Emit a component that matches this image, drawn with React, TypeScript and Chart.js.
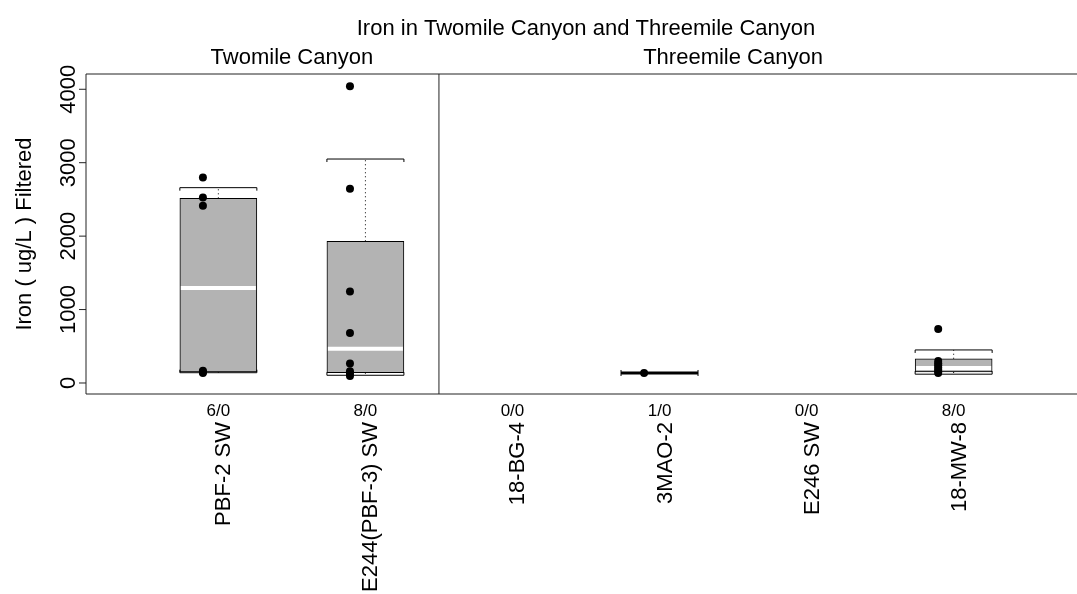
import React, { useEffect, useRef } from "react";
import { Chart, registerables } from "chart.js";

Chart.register(...registerables);

// ---- data ----
const categories = ["PBF-2 SW", "E244(PBF-3) SW", "18-BG-4", "3MAO-2", "E246 SW", "18-MW-8"];
const countLabels = ["6/0", "8/0", "0/0", "1/0", "0/0", "8/0"];
const groupNames = ["Twomile Canyon", "Threemile Canyon"];
const groupFirst = [0, 2];
const groupLast = [1, 5];
const whiskerLow = [140, 105, null, 136, null, 120];
const q1 = [150, 140, null, 136, null, 150];
const median = [1295, 465, null, 136, null, 205];
const q3 = [2515, 1930, null, 136, null, 330];
const whiskerHigh = [2660, 3050, null, 136, null, 450];
const observations: number[][] = [
  [2800, 2525, 2415, 165, 150, 135],
  [4040, 2645, 1245, 680, 265, 160, 125, 95],
  [],
  [136],
  [],
  [736, 300, 270, 240, 210, 180, 155, 135],
];
const yTicks = [0, 1000, 2000, 3000, 4000];
const titleText = "Iron in Twomile Canyon and Threemile Canyon";
const yTitle = "Iron ( ug/L ) Filtered";

// ---- style constants ----
const FONT = '"Liberation Sans", Arial, Helvetica, sans-serif';
const BOX_W = 77;
const POINT_SHIFT = -0.105;
const CANVAS_W = 1100;
const CANVAS_H = 594;

const boxData = categories
  .map((_, i) => (q1[i] == null ? null : { x: i, y: [q1[i] as number, q3[i] as number] }))
  .filter((d) => d !== null);

const pointData: { x: number; y: number }[] = [];
observations.forEach((vals, i) => vals.forEach((v) => pointData.push({ x: i + POINT_SHIFT, y: v })));

const extrasPlugin = {
  id: "boxExtras",
  afterDatasetDraw(chart: any, args: any) {
    if (chart.data.datasets[args.index].type !== "bar") return;
    const { ctx, scales } = chart;
    const xs = scales.x;
    const ys = scales.y;
    const half = BOX_W / 2;
    categories.forEach((_, i) => {
      if (median[i] == null) return;
      const cx = xs.getPixelForValue(i);
      const yLo = ys.getPixelForValue(whiskerLow[i]);
      const yQ1 = ys.getPixelForValue(q1[i]);
      const yMed = ys.getPixelForValue(median[i]);
      const yQ3 = ys.getPixelForValue(q3[i]);
      const yHi = ys.getPixelForValue(whiskerHigh[i]);
      ctx.save();
      ctx.strokeStyle = "#000";
      ctx.lineWidth = 1;
      ctx.setLineDash([1, 3]);
      ctx.beginPath();
      ctx.moveTo(cx, yQ3);
      ctx.lineTo(cx, yHi);
      ctx.moveTo(cx, yQ1);
      ctx.lineTo(cx, yLo);
      ctx.stroke();
      ctx.setLineDash([]);
      ctx.beginPath();
      ctx.moveTo(cx - half, yHi + 3);
      ctx.lineTo(cx - half, yHi);
      ctx.lineTo(cx + half, yHi);
      ctx.lineTo(cx + half, yHi + 3);
      ctx.moveTo(cx - half, yLo - 3);
      ctx.lineTo(cx - half, yLo);
      ctx.lineTo(cx + half, yLo);
      ctx.lineTo(cx + half, yLo - 3);
      ctx.stroke();
      const flat = q1[i] === q3[i];
      ctx.strokeStyle = flat ? "#000" : "#fff";
      ctx.lineWidth = flat ? 3 : 4;
      ctx.beginPath();
      ctx.moveTo(cx - half + (flat ? 0 : 1), yMed);
      ctx.lineTo(cx + half - (flat ? 0 : 1), yMed);
      ctx.stroke();
      ctx.restore();
    });
  },
  afterDraw(chart: any) {
    const { ctx, chartArea, scales } = chart;
    const xs = scales.x;
    const ys = scales.y;
    const { left, top, right, bottom } = chartArea;
    ctx.save();
    ctx.strokeStyle = "#222";
    ctx.lineWidth = 1;
    ctx.beginPath();
    ctx.moveTo(left, top);
    ctx.lineTo(right, top);
    ctx.lineTo(right, bottom);
    ctx.lineTo(left, bottom);
    ctx.closePath();
    const divX = xs.getPixelForValue(1.5);
    ctx.moveTo(divX, top);
    ctx.lineTo(divX, bottom);
    yTicks.forEach((t) => {
      const py = ys.getPixelForValue(t);
      ctx.moveTo(left - 7, py);
      ctx.lineTo(left, py);
    });
    ctx.stroke();

    ctx.fillStyle = "#000";
    // y tick labels (rotated)
    ctx.font = `22px ${FONT}`;
    yTicks.forEach((t) => {
      const py = ys.getPixelForValue(t);
      ctx.save();
      ctx.translate(left - 11, py);
      ctx.rotate(-Math.PI / 2);
      ctx.textAlign = "center";
      ctx.textBaseline = "alphabetic";
      ctx.fillText(String(t), 0, 0);
      ctx.restore();
    });
    // y title
    ctx.save();
    ctx.translate(31, (top + bottom) / 2);
    ctx.rotate(-Math.PI / 2);
    ctx.textAlign = "center";
    ctx.textBaseline = "alphabetic";
    ctx.fillText(yTitle, 0, 0);
    ctx.restore();

    // main title
    ctx.textAlign = "center";
    ctx.textBaseline = "alphabetic";
    ctx.fillText(titleText, (left + right) / 2, 35);
    // group titles
    groupNames.forEach((g, k) => {
      const gx = (xs.getPixelForValue(groupFirst[k]) + xs.getPixelForValue(groupLast[k])) / 2;
      ctx.fillText(g, gx, 64);
    });

    // counts
    ctx.font = `17px ${FONT}`;
    countLabels.forEach((c, i) => {
      ctx.fillText(c, xs.getPixelForValue(i), bottom + 22);
    });
    // category labels rotated
    ctx.font = `22px ${FONT}`;
    categories.forEach((c, i) => {
      ctx.save();
      ctx.translate(xs.getPixelForValue(i) + 12, bottom + 28);
      ctx.rotate(-Math.PI / 2);
      ctx.textAlign = "right";
      ctx.textBaseline = "alphabetic";
      ctx.fillText(c, 0, 0);
      ctx.restore();
    });
    ctx.restore();
  },
};

export default function App() {
  const ref = useRef<HTMLCanvasElement | null>(null);
  useEffect(() => {
    if (!ref.current) return;
    const chart = new Chart(ref.current, {
      type: "bar",
      data: {
        datasets: [
          {
            type: "bar",
            label: "box",
            data: boxData as any,
            backgroundColor: "#b3b3b3",
            borderColor: "#000",
            borderWidth: 1,
            borderSkipped: false,
            barThickness: BOX_W,
            order: 2,
          },
          {
            type: "scatter",
            label: "obs",
            data: pointData as any,
            backgroundColor: "#000",
            borderWidth: 0,
            pointRadius: 4,
            order: 1,
          } as any,
        ],
      },
      plugins: [extrasPlugin],
      options: {
        responsive: false,
        animation: false,
        devicePixelRatio: 1,
        layout: { padding: { left: 86, right: CANVAS_W - 1086, top: 74, bottom: CANVAS_H - 394 } },
        plugins: { legend: { display: false }, tooltip: { enabled: false } },
        scales: {
          x: { type: "linear", min: -0.9, max: 5.9, display: false, offset: false },
          y: { type: "linear", min: -150, max: 4208, display: false },
        },
      },
    });
    return () => chart.destroy();
  }, []);
  return (
    <div style={{ position: "fixed", left: 0, top: 0, width: 1077, height: 594, overflow: "hidden", background: "#fff" }}>
      <canvas ref={ref} width={CANVAS_W} height={CANVAS_H} style={{ width: CANVAS_W, height: CANVAS_H, display: "block" }} />
    </div>
  );
}
